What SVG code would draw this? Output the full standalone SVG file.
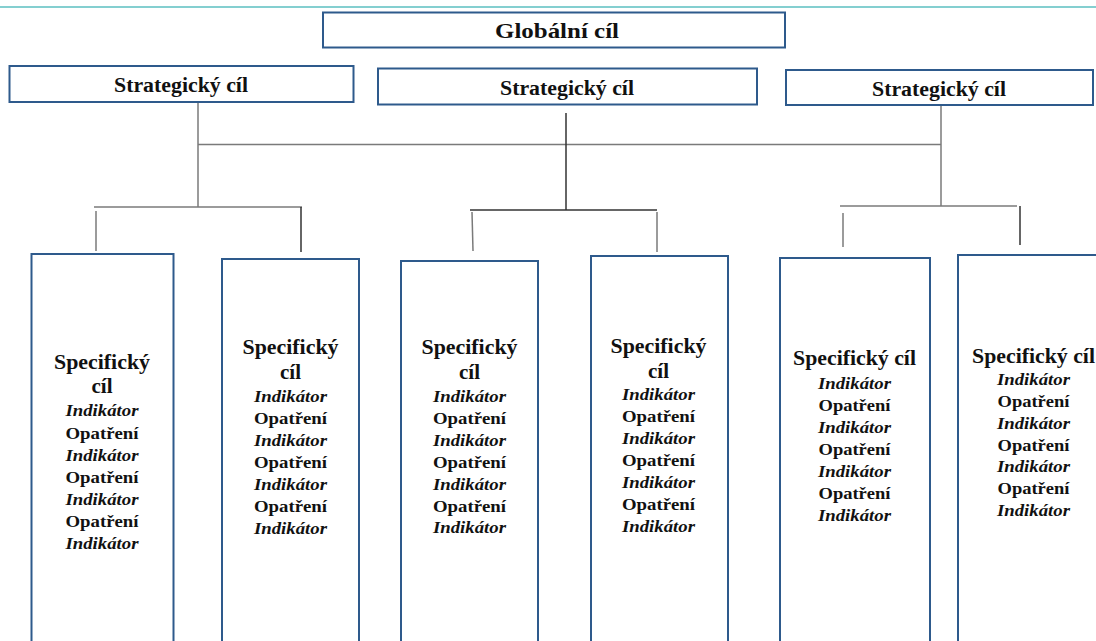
<svg xmlns="http://www.w3.org/2000/svg" width="1096" height="641" viewBox="0 0 1096 641">
<style>
.box{fill:#ffffff;stroke:#2e5a8c;stroke-width:2}
.c{stroke:#7a7a7a;stroke-width:1.5;fill:none}
.d{stroke:#333333;stroke-width:1.5;fill:none}
text{font-family:"Liberation Serif","Times New Roman",serif;font-weight:bold;fill:#111111;text-anchor:middle}
.t{font-size:22px}
.s{font-size:20px}
.h{font-size:21px}
.i{font-size:17px;font-style:italic}
.o{font-size:17px}
</style>
<rect width="1096" height="641" fill="#ffffff"/>
<line x1="0" y1="7" x2="1096" y2="7" stroke="#5bbfc0" stroke-width="1.5"/>

<g id="connectors">
  <line class="c" x1="198" y1="103" x2="198" y2="207"/>
  <line class="c" x1="198" y1="144.5" x2="941" y2="144.5" stroke-width="2"/>
  <line class="d" x1="566" y1="113" x2="566" y2="210"/>
  <line class="c" x1="941" y1="105" x2="941" y2="206"/>
  <line class="c" x1="94" y1="207" x2="302" y2="207" stroke-width="2"/>
  <line class="c" x1="96" y1="211" x2="96" y2="251"/>
  <line class="d" x1="301" y1="207" x2="301" y2="252"/>
  <line class="d" x1="470" y1="210" x2="657" y2="210"/>
  <line class="c" x1="472" y1="212" x2="473" y2="251"/>
  <line class="c" x1="657" y1="212" x2="657" y2="252"/>
  <line class="c" x1="840" y1="206" x2="1017" y2="206" stroke-width="2"/>
  <line class="c" x1="843" y1="213" x2="843" y2="247"/>
  <line class="d" x1="1020" y1="206" x2="1020" y2="245" stroke-width="2"/>
</g>

<g id="global">
  <rect class="box" x="323" y="12.5" width="462" height="35"/>
  <text class="t" x="557" y="37.5" textLength="124" lengthAdjust="spacingAndGlyphs">Globální cíl</text>
</g>

<g id="strategic1">
  <rect class="box" x="9.5" y="66" width="344" height="36"/>
  <text class="s" x="181" y="92" textLength="134" lengthAdjust="spacingAndGlyphs">Strategický cíl</text>
</g>
<g id="strategic2">
  <rect class="box" x="378" y="68.5" width="379" height="36"/>
  <text class="s" x="567" y="95" textLength="134" lengthAdjust="spacingAndGlyphs">Strategický cíl</text>
</g>
<g id="strategic3">
  <rect class="box" x="786" y="70" width="307" height="35"/>
  <text class="s" x="939" y="96" textLength="134" lengthAdjust="spacingAndGlyphs">Strategický cíl</text>
</g>

<g id="specific1">
  <rect class="box" x="31.5" y="254" width="142" height="400"/>
  <text class="h" x="102" y="369" textLength="96" lengthAdjust="spacingAndGlyphs">Specifický</text>
  <text class="h" x="102" y="393">cíl</text>
  <text class="i" x="102" y="416" textLength="73" lengthAdjust="spacingAndGlyphs">Indikátor</text>
  <text class="o" x="102" y="438.5" textLength="73" lengthAdjust="spacingAndGlyphs">Opatření</text>
  <text class="i" x="102" y="460.5" textLength="73" lengthAdjust="spacingAndGlyphs">Indikátor</text>
  <text class="o" x="102" y="482.5" textLength="73" lengthAdjust="spacingAndGlyphs">Opatření</text>
  <text class="i" x="102" y="504.5" textLength="73" lengthAdjust="spacingAndGlyphs">Indikátor</text>
  <text class="o" x="102" y="526.5" textLength="73" lengthAdjust="spacingAndGlyphs">Opatření</text>
  <text class="i" x="102" y="548.5" textLength="73" lengthAdjust="spacingAndGlyphs">Indikátor</text>
</g>

<g id="specific2">
  <rect class="box" x="222" y="259" width="137" height="400"/>
  <text class="h" x="290.5" y="353.5" textLength="96" lengthAdjust="spacingAndGlyphs">Specifický</text>
  <text class="h" x="290.5" y="379">cíl</text>
  <text class="i" x="290.5" y="401.5" textLength="73" lengthAdjust="spacingAndGlyphs">Indikátor</text>
  <text class="o" x="290.5" y="423.5" textLength="73" lengthAdjust="spacingAndGlyphs">Opatření</text>
  <text class="i" x="290.5" y="445.5" textLength="73" lengthAdjust="spacingAndGlyphs">Indikátor</text>
  <text class="o" x="290.5" y="467.5" textLength="73" lengthAdjust="spacingAndGlyphs">Opatření</text>
  <text class="i" x="290.5" y="489.5" textLength="73" lengthAdjust="spacingAndGlyphs">Indikátor</text>
  <text class="o" x="290.5" y="511.5" textLength="73" lengthAdjust="spacingAndGlyphs">Opatření</text>
  <text class="i" x="290.5" y="533.5" textLength="73" lengthAdjust="spacingAndGlyphs">Indikátor</text>
</g>

<g id="specific3">
  <rect class="box" x="401" y="261" width="137" height="400"/>
  <text class="h" x="469.5" y="353.5" textLength="96" lengthAdjust="spacingAndGlyphs">Specifický</text>
  <text class="h" x="469.5" y="378.5">cíl</text>
  <text class="i" x="469.5" y="401.5" textLength="73" lengthAdjust="spacingAndGlyphs">Indikátor</text>
  <text class="o" x="469.5" y="423.5" textLength="73" lengthAdjust="spacingAndGlyphs">Opatření</text>
  <text class="i" x="469.5" y="445.5" textLength="73" lengthAdjust="spacingAndGlyphs">Indikátor</text>
  <text class="o" x="469.5" y="467.5" textLength="73" lengthAdjust="spacingAndGlyphs">Opatření</text>
  <text class="i" x="469.5" y="489.5" textLength="73" lengthAdjust="spacingAndGlyphs">Indikátor</text>
  <text class="o" x="469.5" y="511.5" textLength="73" lengthAdjust="spacingAndGlyphs">Opatření</text>
  <text class="i" x="469.5" y="533" textLength="73" lengthAdjust="spacingAndGlyphs">Indikátor</text>
</g>

<g id="specific4">
  <rect class="box" x="591" y="256" width="137" height="400"/>
  <text class="h" x="658.5" y="352.5" textLength="96" lengthAdjust="spacingAndGlyphs">Specifický</text>
  <text class="h" x="658.5" y="377.5">cíl</text>
  <text class="i" x="658.5" y="400" textLength="73" lengthAdjust="spacingAndGlyphs">Indikátor</text>
  <text class="o" x="658.5" y="422" textLength="73" lengthAdjust="spacingAndGlyphs">Opatření</text>
  <text class="i" x="658.5" y="444" textLength="73" lengthAdjust="spacingAndGlyphs">Indikátor</text>
  <text class="o" x="658.5" y="466" textLength="73" lengthAdjust="spacingAndGlyphs">Opatření</text>
  <text class="i" x="658.5" y="488" textLength="73" lengthAdjust="spacingAndGlyphs">Indikátor</text>
  <text class="o" x="658.5" y="510" textLength="73" lengthAdjust="spacingAndGlyphs">Opatření</text>
  <text class="i" x="658.5" y="532" textLength="73" lengthAdjust="spacingAndGlyphs">Indikátor</text>
</g>

<g id="specific5">
  <rect class="box" x="780" y="258" width="150" height="400"/>
  <text class="h" x="854.5" y="365" textLength="123" lengthAdjust="spacingAndGlyphs">Specifický cíl</text>
  <text class="i" x="854.5" y="389" textLength="73" lengthAdjust="spacingAndGlyphs">Indikátor</text>
  <text class="o" x="854.5" y="411" textLength="72" lengthAdjust="spacingAndGlyphs">Opatření</text>
  <text class="i" x="854.5" y="433" textLength="73" lengthAdjust="spacingAndGlyphs">Indikátor</text>
  <text class="o" x="854.5" y="455" textLength="72" lengthAdjust="spacingAndGlyphs">Opatření</text>
  <text class="i" x="854.5" y="477" textLength="73" lengthAdjust="spacingAndGlyphs">Indikátor</text>
  <text class="o" x="854.5" y="498.5" textLength="72" lengthAdjust="spacingAndGlyphs">Opatření</text>
  <text class="i" x="854.5" y="520.5" textLength="73" lengthAdjust="spacingAndGlyphs">Indikátor</text>
</g>

<g id="specific6">
  <rect class="box" x="958" y="255" width="150" height="400"/>
  <text class="h" x="1033.5" y="362.5" textLength="123" lengthAdjust="spacingAndGlyphs">Specifický cíl</text>
  <text class="i" x="1033.5" y="385" textLength="73" lengthAdjust="spacingAndGlyphs">Indikátor</text>
  <text class="o" x="1033.5" y="407" textLength="72" lengthAdjust="spacingAndGlyphs">Opatření</text>
  <text class="i" x="1033.5" y="428.5" textLength="73" lengthAdjust="spacingAndGlyphs">Indikátor</text>
  <text class="o" x="1033.5" y="450.5" textLength="72" lengthAdjust="spacingAndGlyphs">Opatření</text>
  <text class="i" x="1033.5" y="472" textLength="73" lengthAdjust="spacingAndGlyphs">Indikátor</text>
  <text class="o" x="1033.5" y="494" textLength="72" lengthAdjust="spacingAndGlyphs">Opatření</text>
  <text class="i" x="1033.5" y="516" textLength="73" lengthAdjust="spacingAndGlyphs">Indikátor</text>
</g>
</svg>
